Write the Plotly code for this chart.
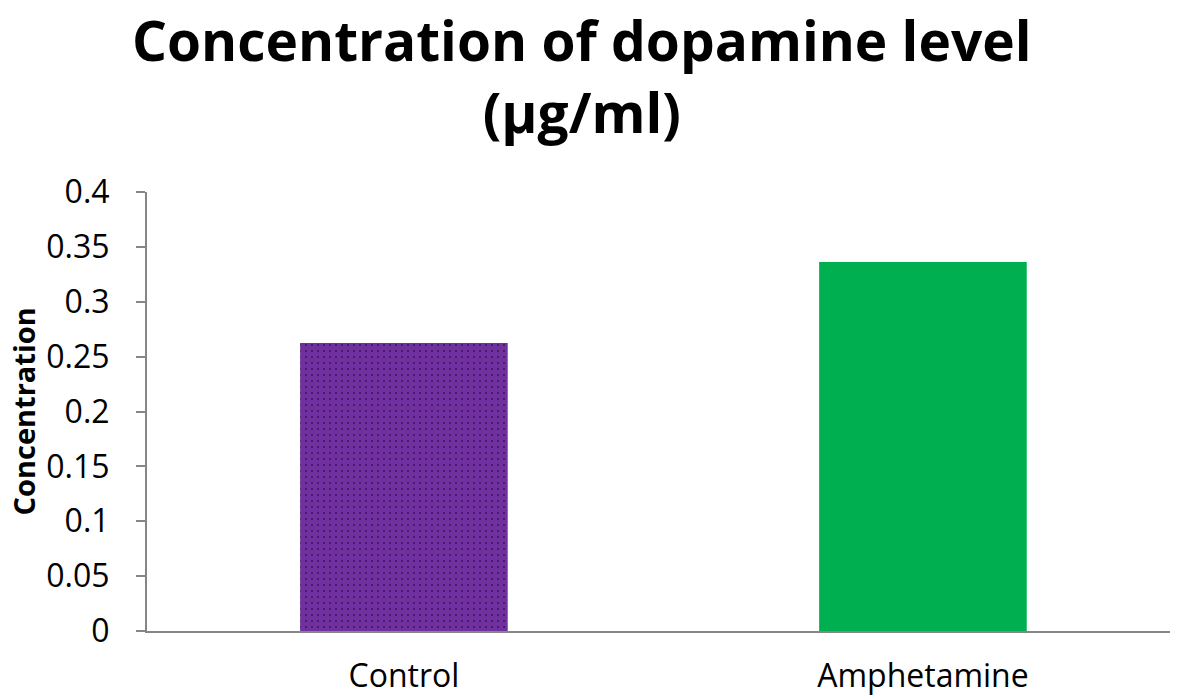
import plotly.graph_objects as go

categories = ["Control", "Amphetamine"]
values = [0.2625, 0.3362]
colors = ["#7030A0", "#00B050"]
patterns = [".", ""]
y_ticks = [0, 0.05, 0.1, 0.15, 0.2, 0.25, 0.3, 0.35, 0.4]
y_tick_labels = ["0", "0.05", "0.1", "0.15", "0.2", "0.25", "0.3", "0.35", "0.4"]
title_lines = ["Concentration of dopamine level", "(µg/ml)"]
y_title = "Concentration"

FONT = "Open Sans"

fig = go.Figure()
for cat, val, col, pat in zip(categories, values, colors, patterns):
    fig.add_trace(go.Bar(
        x=[cat],
        y=[val],
        marker=dict(
            color=col,
            line=dict(width=0),
            pattern=dict(shape=pat, fgcolor="#000000", bgcolor=col,
                         fgopacity=0.85, size=6, solidity=0.06, fillmode="overlay"),
        ),
        width=0.4,
    ))

fig.update_layout(
    width=1173, height=689,
    barmode="overlay",
    paper_bgcolor="white", plot_bgcolor="white",
    margin=dict(l=139, r=11, t=184, b=66),
    showlegend=False,
    font=dict(family=FONT, color="black"),
)
fig.add_annotation(
    text="<b>" + title_lines[0] + "</b><br><b>" + title_lines[1] + "</b>",
    xref="paper", yref="paper", x=0.425, y=1.0, yanchor="bottom", yshift=42,
    xanchor="center", showarrow=False, align="center", borderpad=0,
    font=dict(family=FONT, size=55, color="black"),
)
fig.add_annotation(
    text="<b>" + y_title + "</b>",
    xref="paper", yref="paper", x=0, y=0.5, xanchor="center", yanchor="middle",
    xshift=-124, textangle=-90, showarrow=False, borderpad=0,
    font=dict(family=FONT, size=29, color="black"),
)
fig.update_xaxes(
    categoryorder="array", categoryarray=categories,
    range=[-0.495, 1.476], automargin=False,
    showline=True, linecolor="#868686", linewidth=2,
    ticks="", showgrid=False,
    tickfont=dict(family=FONT, size=32, color="black"),
    ticklabelstandoff=16,
)
fig.update_yaxes(
    range=[0, 0.4], tickvals=y_ticks, ticktext=y_tick_labels, automargin=False,
    showline=True, linecolor="#868686", linewidth=2,
    ticks="outside", ticklen=9, tickcolor="#868686", tickwidth=2,
    showgrid=False, zeroline=False,
    tickfont=dict(family=FONT, size=32, color="black"),
    ticklabelstandoff=20,
)

fig.write_html("out.html")
